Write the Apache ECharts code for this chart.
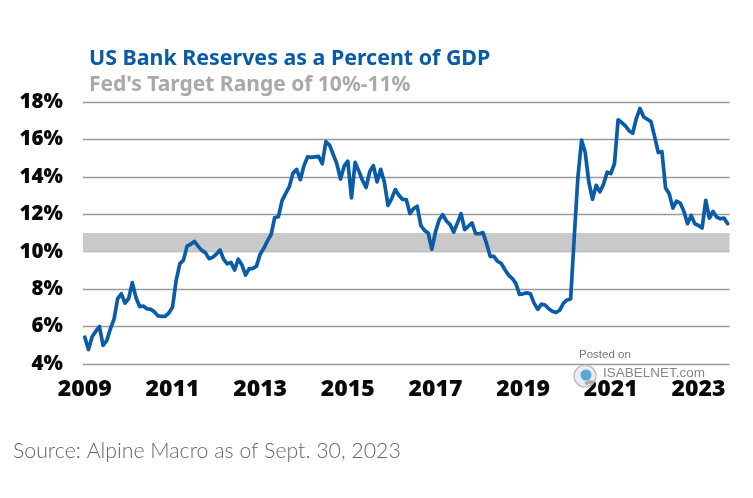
<!DOCTYPE html>
<html><head><meta charset="utf-8">
<style>html,body{margin:0;padding:0;background:#fff}#c{width:753px;height:498px}</style>
<script src="https://cdn.jsdelivr.net/npm/echarts@6/dist/echarts.min.js"></script>
</head><body><div id="c"></div>
<script>
const titleText = "US Bank Reserves as a Percent of GDP";
const subtitleText = "Fed's Target Range of 10%-11%";
const sourceText = "Source: Alpine Macro as of Sept. 30, 2023";
const startYear = 2009;
const targetRange = [10, 11];
const reserves2009_2011 = [5.43,4.77,5.46,5.75,6.0,5.0,5.25,5.88,6.4,7.5,7.75,7.25,7.5,8.35,7.55,7.07,7.1,6.95,6.93,6.8,6.57,6.55,6.55,6.73];
const reserves2011_2013 = [7.03,8.45,9.35,9.55,10.3,10.4,10.55,10.3,10.07,9.95,9.63,9.7,9.87,10.09,9.6,9.35,9.43,9.02,9.6,9.3,8.75,9.1,9.1,9.23];
const reserves2013_2015 = [9.87,10.18,10.58,10.92,11.83,11.87,12.73,13.12,13.48,14.2,14.4,13.85,14.6,15.07,15.04,15.07,15.1,14.7,15.88,15.7,15.2,14.7,13.88,14.57];
const reserves2015_2017 = [14.84,12.88,14.77,14.32,13.82,13.43,14.27,14.6,13.73,14.4,13.73,12.48,12.84,13.32,13.02,12.79,12.79,12.04,12.3,12.43,11.4,11.14,11.0,10.13];
const reserves2017_2019 = [11.05,11.7,11.98,11.64,11.45,11.05,11.53,12.04,11.18,11.36,11.54,10.96,10.96,11.02,10.43,9.75,9.75,9.48,9.38,9.05,8.75,8.58,8.31,7.72];
const reserves2019_2021 = [7.75,7.8,7.75,7.25,6.92,7.2,7.15,6.95,6.82,6.75,6.87,7.24,7.42,7.47,10.8,14.0,15.96,15.3,13.7,12.8,13.55,13.2,13.6,14.25];
const reserves2021_2023 = [14.18,14.7,17.05,16.9,16.72,16.47,16.33,17.13,17.66,17.2,17.08,16.95,16.15,15.3,15.35,13.4,13.1,12.33,12.7,12.6,12.16,11.5,11.94,11.5];
const reserves2023 = [11.4,11.27,12.75,11.8,12.15,11.85,11.76,11.8,11.5];
const reserves = [].concat(reserves2009_2011,reserves2011_2013,reserves2013_2015,reserves2015_2017,reserves2017_2019,reserves2019_2021,reserves2021_2023,reserves2023);
const months = reserves.map((_,i)=>(startYear+Math.floor(i/12))+'-'+String(i%12+1).padStart(2,'0'));

const axisFont = {fontFamily:'"Open Sans"',fontWeight:800,fontSize:20.5,color:'#0a0a0a'};
const chart = echarts.init(document.getElementById('c'),null,{renderer:'canvas'});
chart.setOption({
  animation:false,
  backgroundColor:'#fff',
  title:[
    {text:titleText,left:84,top:43,textStyle:{fontFamily:'"Noto Sans"',fontWeight:700,fontSize:21.4,color:'#0a5ba6'}},
    {text:subtitleText,left:84,top:70,textStyle:{fontFamily:'"Noto Sans"',fontWeight:700,fontSize:21,color:'#a9a9a9'}},
    {text:sourceText,left:8,top:436,textStyle:{fontFamily:'Lato',fontWeight:300,fontSize:21.3,color:'#666'}},
    {text:'Posted on',left:574,top:344,textStyle:{fontFamily:'"Liberation Sans"',fontWeight:400,fontSize:11.5,color:'#777'}},
    {text:'ISABELNET.com',left:598,top:361,textStyle:{fontFamily:'"Liberation Sans"',fontWeight:400,fontSize:13.5,color:'#888'}}
  ],
  grid:{left:83,right:23.5,top:102,bottom:134,containLabel:false},
  xAxis:{type:'category',data:months,boundaryGap:true,
    axisLine:{show:false},axisTick:{show:false},splitLine:{show:false},
    axisLabel:Object.assign({},axisFont,{margin:14,fontSize:23,showMinLabel:true,
      interval:(i)=>i%24===0,
      formatter:(v)=>v.slice(0,4)})},
  yAxis:{type:'value',min:4,max:18,interval:2,
    axisLine:{show:false},axisTick:{show:false},
    axisLabel:Object.assign({},axisFont,{margin:20,formatter:'{value}%'}),
    splitLine:{lineStyle:{color:'#9a9a9a',width:1.3}}},
  series:[{type:'line',data:reserves,showSymbol:false,smooth:false,z:5,
    lineStyle:{color:'#0a5ca8',width:3.7,join:'round',cap:'round'},
    markArea:{silent:true,z:1,itemStyle:{color:'#c9c9c9'},
      data:[[{yAxis:targetRange[0]},{yAxis:targetRange[1]}]]}}],
  graphic:[
    {type:'circle',shape:{cx:585,cy:376,r:11},style:{fill:'rgba(225,228,232,0.75)',stroke:'#b5b9bf',lineWidth:1.2},z:20},
    {type:'circle',shape:{cx:586,cy:375,r:5.5},style:{fill:'#5aa6d6'},z:21}
  ]
});
</script></body></html>
